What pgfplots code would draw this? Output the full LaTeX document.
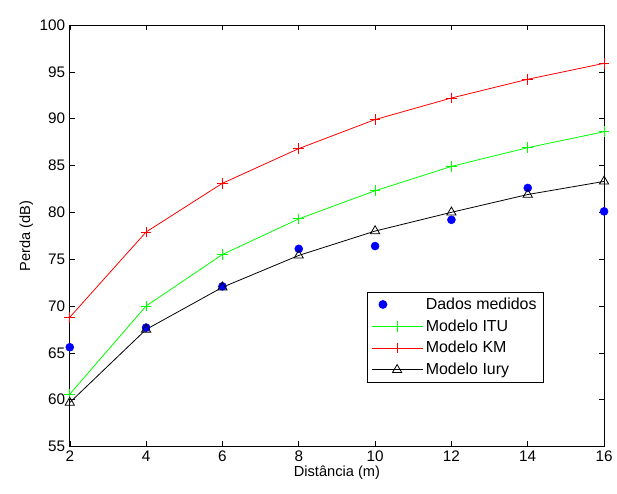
\documentclass[border=0pt]{standalone}
\usepackage{fontspec}
\setmainfont{Liberation Sans}
\usepackage{pgfplots}
\pgfplotsset{compat=1.18}
\definecolor{kmred}{rgb}{1,0,0}
\definecolor{itugreen}{rgb}{0,1,0}
\pgfplotsset{
  longleg/.style 2 args={legend image code/.code={
    \draw[color=#1, line width=0.75pt] (0cm,0cm) -- (1.35cm,0cm);
    \draw[color=#1, line width=0.6pt, fill=none] plot[only marks, mark=#2, mark size=4pt] coordinates {(0.675cm,0cm)};
  }},
}
\begin{document}
\begin{tikzpicture}
\begin{axis}[
  scale only axis,
  width=402pt, height=317.25pt,
  xmin=2, xmax=16, ymin=55, ymax=100,
  xtick={2,4,...,16}, ytick={55,60,...,100},
  tick align=inside,
  major tick length=4pt,
  tick style={black, line width=0.4pt},
  axis line style={line width=0.6pt},
  /pgf/number format/assume math mode=true,
  tick label style={font=\fontsize{11.5}{12}\selectfont},
  label style={font=\fontsize{11}{12}\selectfont},
  xlabel={Distância (m)}, ylabel={Perda (dB)},
  xlabel style={yshift=4pt},
  ylabel style={yshift=-2pt},
  legend style={at={(axis cs:9.78,71.5)}, anchor=north west, font=\fontsize{12}{13}\selectfont, draw=black, line width=0.6pt, inner xsep=3pt, inner ysep=2pt, row sep=2.2pt, cells={anchor=west}},
  legend cell align=left,
]
\addplot[only marks, mark=*, color=blue, mark size=3pt] coordinates {
(2,65.6) (4,67.7) (6,72.1) (8,76.1) (10,76.4) (12,79.2) (14,82.6) (16,80.1)};
\addlegendentry{Dados medidos}
\addplot[color=itugreen, line width=0.6pt, mark=+, mark size=4pt, mark options={line width=0.6pt},
  longleg={itugreen}{+}] coordinates {
(2,60.6) (4,70.0) (6,75.5) (8,79.3) (10,82.3) (12,84.9) (14,86.9) (16,88.6)};
\addlegendentry{Modelo ITU}
\addplot[color=kmred, line width=0.6pt, mark=+, mark size=4pt, mark options={line width=0.6pt},
  longleg={kmred}{+}] coordinates {
(2,68.8) (4,77.9) (6,83.1) (8,86.8) (10,89.9) (12,92.2) (14,94.2) (16,95.9)};
\addlegendentry{Modelo KM}
\addplot[color=black, line width=0.6pt, mark=triangle, mark size=4pt, mark options={line width=0.6pt, fill=none},
  longleg={black}{triangle}] coordinates {
(2,59.7) (4,67.5) (6,72.0) (8,75.4) (10,78.0) (12,80.0) (14,81.9) (16,83.3)};
\addlegendentry{Modelo Iury}
\end{axis}
\path (current axis.south west) ++(-52.5pt,-35.25pt) coordinate (bbsw);
\path (current axis.north east) ++(8.25pt,18.75pt) coordinate (bbne);
\useasboundingbox (bbsw) rectangle (bbne);
\end{tikzpicture}
\end{document}
